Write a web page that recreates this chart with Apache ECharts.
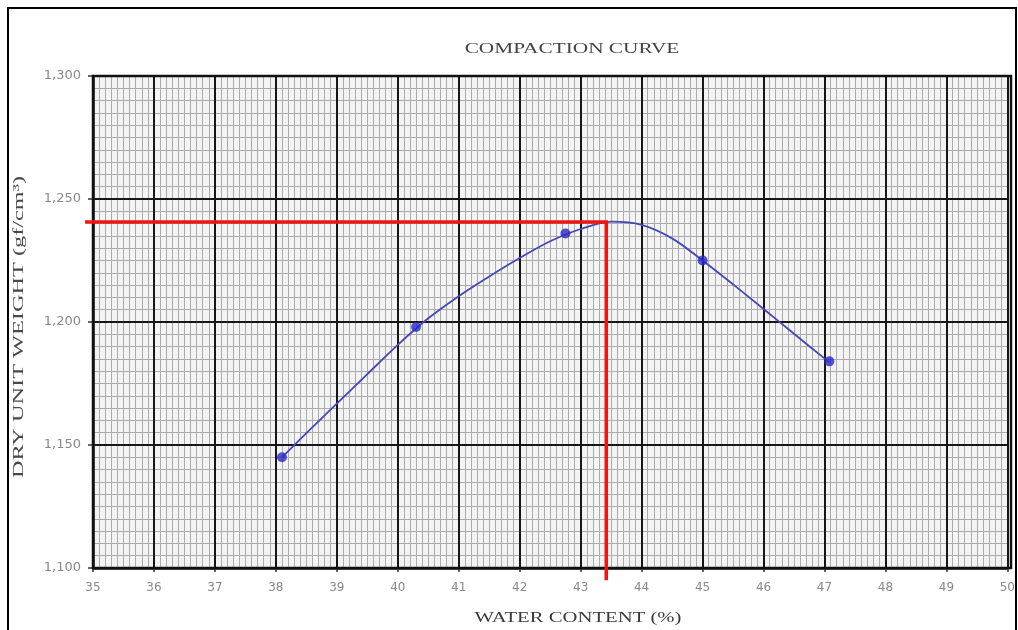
<!DOCTYPE html>
<html>
<head>
<meta charset="utf-8">
<script src="https://cdn.jsdelivr.net/npm/echarts@6/dist/echarts.min.js"></script>
<style>html,body{margin:0;padding:0;background:#fff;}#c{width:1018px;height:630px;}</style>
</head>
<body>
<div id="c"></div>
<script>
// Measured points
const waterContent = [38.1, 40.3, 42.75, 45.0, 47.08];
const dryUnitWeight = [1145, 1198, 1236, 1225, 1184];
// Compaction curve
const curveX = [38.1, 38.5, 39, 39.5, 40, 40.5, 41, 41.5, 42, 42.5, 43, 43.5, 44, 44.5, 45, 45.5, 46, 46.5, 47.08];
const curveY = [1145, 1154.8, 1166.8, 1178.8, 1190.7, 1201.5, 1210.5, 1218.5, 1226, 1232.8, 1237.8, 1240.8, 1239.5, 1234, 1225, 1215.3, 1205.3, 1195.2, 1183.6];
// Optimum guide lines (max dry unit weight / optimum water content)
const optX = [34.87, 43.42, 43.42];
const optY = [1240.7, 1240.7, 1095];
const xTicks = [35, 36, 37, 38, 39, 40, 41, 42, 43, 44, 45, 46, 47, 48, 49, 50];
const yTicks = [1100, 1150, 1200, 1250, 1300];
const titleText = 'COMPACTION CURVE';
const xName = 'WATER CONTENT (%)';
const yName = 'DRY UNIT WEIGHT (gf/cm³)';

const chart = echarts.init(document.getElementById('c'));
const pts = waterContent.map((x, i) => [x, dryUnitWeight[i]]);
const curve = curveX.map((x, i) => [x, curveY[i]]);

const xMin = xTicks[0], xMax = xTicks[xTicks.length - 1];
const yMin = yTicks[0], yMax = yTicks[yTicks.length - 1];
const majorLine = { show: true, lineStyle: { color: '#161616', width: 2 } };
const minorLine = { show: true, lineStyle: { color: '#acacac', width: 1 } };

chart.setOption({
  animation: false,
  backgroundColor: '#fff',
  grid: { left: 93, right: 7, top: 76, bottom: 62, show: true, backgroundColor: '#f3f3f3', borderWidth: 0 },
  xAxis: [{
    type: 'value', min: xMin, max: xMax, interval: 1, z: 0,
    axisLine: { show: true, lineStyle: { color: '#111', width: 2.5 } },
    axisTick: { show: true, length: 4, lineStyle: { color: '#333', width: 1.5 } },
    axisLabel: { color: '#8a8a8a', fontFamily: 'DejaVu Sans', fontSize: 12, margin: 14 },
    splitLine: { show: false },
    minorTick: { show: false, splitNumber: 10 },
    minorSplitLine: minorLine
  }, {
    type: 'value', min: xMin, max: xMax, interval: 1, z: 1, position: 'top',
    axisLine: { show: false }, axisTick: { show: false }, axisLabel: { show: false },
    splitLine: majorLine
  }],
  yAxis: [{
    type: 'value', min: yMin, max: yMax, interval: 50, z: 0,
    axisLine: { show: true, lineStyle: { color: '#111', width: 2.5 } },
    axisTick: { show: true, length: 5, lineStyle: { color: '#333', width: 1.5 } },
    axisLabel: { color: '#8a8a8a', fontFamily: 'DejaVu Sans', fontSize: 13, margin: 12,
      formatter: v => v.toLocaleString('en-US') },
    splitLine: { show: false },
    minorTick: { show: false, splitNumber: 10 },
    minorSplitLine: minorLine
  }, {
    type: 'value', min: yMin, max: yMax, interval: 50, z: 1, position: 'right',
    axisLine: { show: false }, axisTick: { show: false }, axisLabel: { show: false },
    splitLine: majorLine
  }],
  series: [{
    type: 'line', data: curve, smooth: 0.3, showSymbol: false,
    lineStyle: { color: '#4646b6', width: 1.8 }, z: 3
  }, {
    type: 'scatter', data: pts, symbol: 'circle', symbolSize: 10,
    itemStyle: { color: '#2828c8' }, z: 5
  }]
});

// Red guide lines positioned through the chart's own coordinate system
const redPts = optX.map((x, i) => chart.convertToPixel({ gridIndex: 0 }, [x, optY[i]]));

const serif = 'Liberation Serif';
chart.setOption({
  graphic: [{
    type: 'rect', shape: { x: 8, y: 8, width: 1008, height: 640 },
    style: { fill: 'none', stroke: '#000', lineWidth: 2 }, z: 100, silent: true
  }, {
    type: 'rect', shape: { x: 93, y: 76, width: 918, height: 492 },
    style: { fill: 'none', stroke: '#111', lineWidth: 2.5 }, z: 50, silent: true
  }, {
    type: 'polyline', shape: { points: redPts },
    style: { fill: 'none', stroke: '#ee1515', lineWidth: 3.5 }, z: 60, silent: true
  }, {
    type: 'text', x: 572, y: 49, scaleX: 1.42,
    style: { text: titleText, font: '15px "' + serif + '"', fill: '#444', align: 'center', verticalAlign: 'middle' },
    z: 70, silent: true
  }, {
    type: 'text', x: 578, y: 618, scaleX: 1.38,
    style: { text: xName, font: '15px "' + serif + '"', fill: '#3a3a3a', align: 'center', verticalAlign: 'middle' },
    z: 70, silent: true
  }, {
    type: 'text', x: 19, y: 327, rotation: Math.PI / 2, scaleX: 1.62,
    style: { text: yName, font: '15px "' + serif + '"', fill: '#484848', align: 'center', verticalAlign: 'middle' },
    z: 70, silent: true
  }]
});
</script>
</body>
</html>
